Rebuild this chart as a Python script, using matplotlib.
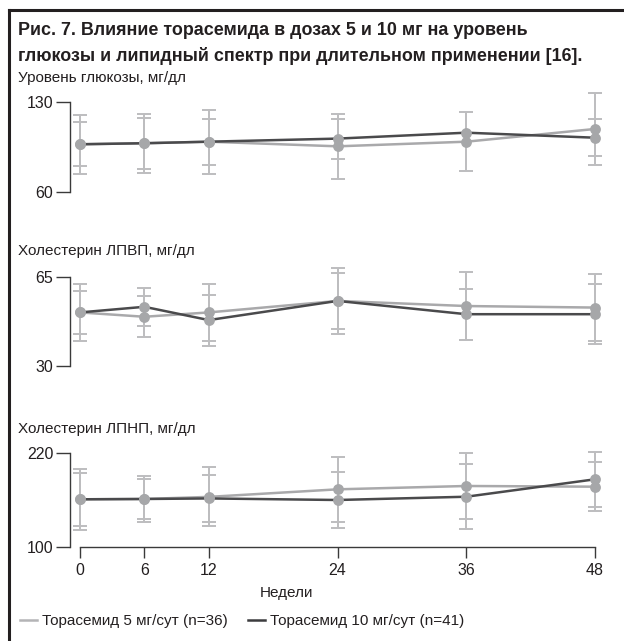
import numpy as np
import matplotlib
matplotlib.use('Agg')
import matplotlib.pyplot as plt
from matplotlib.lines import Line2D

plt.rcParams['font.family'] = ['Liberation Sans', 'DejaVu Sans']

W, H = 624, 641
TXT = '#231f20'
C_LIGHT = '#a9a9ab'
C_DARK = '#4a4a4c'
C_MARK = '#a6a7a9'
C_ERR = '#bdbdbf'

weeks = [0, 6, 12, 24, 36, 48]

# глюкоза, мг/дл
glu_5 = [97.1, 97.9, 99.1, 95.5, 99.1, 109.0]
glu_5_sd = [23, 23, 25, 25.5, 23, 28]
glu_10 = [97.1, 97.9, 99.1, 101.5, 106.1, 102.2]
glu_10_sd = [17, 20, 18, 15.5, 0, 14.5]

# ЛПВП, мг/дл
hdl_5 = [51.0, 49.3, 51.0, 55.5, 53.5, 52.9]
hdl_5_sd = [11, 8, 11, 13, 13.2, 13]
hdl_10 = [51.0, 53.2, 48.0, 55.5, 50.3, 50.3]
hdl_10_sd = [8.5, 7.5, 10, 11, 10, 11.7]

# ЛПНП, мг/дл
ldl_5 = [160.9, 161.3, 164.0, 173.7, 178.0, 177.1]
ldl_5_sd = [39, 30, 38, 42, 42, 31.6]
ldl_10 = [160.9, 161.3, 162.0, 160.0, 164.2, 186.6]
ldl_10_sd = [34, 25.5, 30, 36, 42, 35.5]

panels = [
    ('Уровень глюкозы, мг/дл', glu_5, glu_5_sd, glu_10, glu_10_sd, (60, 130)),
    ('Холестерин ЛПВП, мг/дл', hdl_5, hdl_5_sd, hdl_10, hdl_10_sd, (30, 65)),
    ('Холестерин ЛПНП, мг/дл', ldl_5, ldl_5_sd, ldl_10, ldl_10_sd, (100, 220)),
]
# (top px, bottom px, ylim) for each panel
boxes = [(89.1, 198.4, (55, 140)),
         (263.9, 373.7, (27, 70)),
         (449.4, 546.7, (100, 225))]
label_y = [78, 251, 429]

fig = plt.figure(figsize=(W / 100, H / 100), dpi=100)


def add_px_axes(left, top, right, bottom):
    return fig.add_axes([left / W, 1 - bottom / H, (right - left) / W, (bottom - top) / H])


for i, (title, m5, s5, m10, s10, (lo, hi)) in enumerate(panels):
    top, bottom, ylim = boxes[i]
    ax = add_px_axes(70, top, 605.8, bottom)
    ax.set_xlim(-0.932, 49)
    ax.set_ylim(*ylim)
    ax.patch.set_visible(False)

    for m, s in ((m5, s5), (m10, s10)):
        ax.errorbar(weeks, m, yerr=s, fmt='none', ecolor=C_ERR, elinewidth=1.4,
                    capsize=5, capthick=1.4, zorder=1, clip_on=False)
    ax.plot(weeks, m5, color=C_LIGHT, lw=1.8, zorder=2, solid_capstyle='round')
    ax.plot(weeks, m10, color=C_DARK, lw=1.8, zorder=2, solid_capstyle='round')
    ax.plot(weeks, m5, 'o', color=C_MARK, ms=7.8, mec='none', zorder=3)
    ax.plot(weeks, m10, 'o', color=C_MARK, ms=7.8, mec='none', zorder=3)

    for side in ('top', 'right'):
        ax.spines[side].set_visible(False)
    ax.spines['left'].set_bounds(lo, hi)
    ax.spines['left'].set_color('#3a3a3a')
    ax.spines['left'].set_linewidth(1.0)
    ax.set_yticks([lo, hi])
    ax.tick_params(axis='y', direction='out', length=10, width=1.0, pad=2,
                   labelsize=11.5, colors='#3a3a3a', labelcolor=TXT)

    if i < 2:
        ax.spines['bottom'].set_visible(False)
        ax.set_xticks([])
    else:
        ax.spines['bottom'].set_bounds(0, 48)
        ax.spines['bottom'].set_color('#3a3a3a')
        ax.spines['bottom'].set_linewidth(1.0)
        ax.set_xticks(weeks)
        ax.tick_params(axis='x', direction='out', length=8, width=1.0, pad=4,
                       labelsize=11.5, colors='#3a3a3a', labelcolor=TXT)

    fig.text(18 / W, 1 - label_y[i] / H, title, fontsize=11, color=TXT,
             ha='left', va='center')

fig.text(18 / W, 1 - 22 / H,
         'Рис. 7. Влияние торасемида в дозах 5 и 10 мг на уровень\n'
         'глюкозы и липидный спектр при длительном применении [16].',
         fontsize=12.9, fontweight='bold', color=TXT, ha='left', va='top',
         linespacing=1.55)

fig.text(286 / W, 1 - 593 / H, 'Недели', fontsize=11, color=TXT,
         ha='center', va='center')

handles = [Line2D([], [], color='#b4b4b6', lw=1.8),
           Line2D([], [], color='#3c3c3e', lw=1.8)]
fig.legend(handles, ['Торасемид 5 мг/сут (n=36)', 'Торасемид 10 мг/сут (n=41)'],
           loc='center left', bbox_to_anchor=(20 / W, 1 - 621 / H), ncol=2,
           frameon=False, fontsize=11, handlelength=1.1, handletextpad=0.35,
           columnspacing=1.3, borderpad=0, borderaxespad=0,
           labelcolor=TXT)

# рамка слева и сверху
fig.add_artist(Line2D([9 / W, 9 / W], [0, 1 - 10 / H], color=TXT, lw=2.2,
                      transform=fig.transFigure, solid_capstyle='projecting'))
fig.add_artist(Line2D([9 / W, 1], [1 - 10 / H, 1 - 10 / H], color=TXT, lw=2.2,
                      transform=fig.transFigure, solid_capstyle='projecting'))

fig.savefig('out.png', dpi=100)
